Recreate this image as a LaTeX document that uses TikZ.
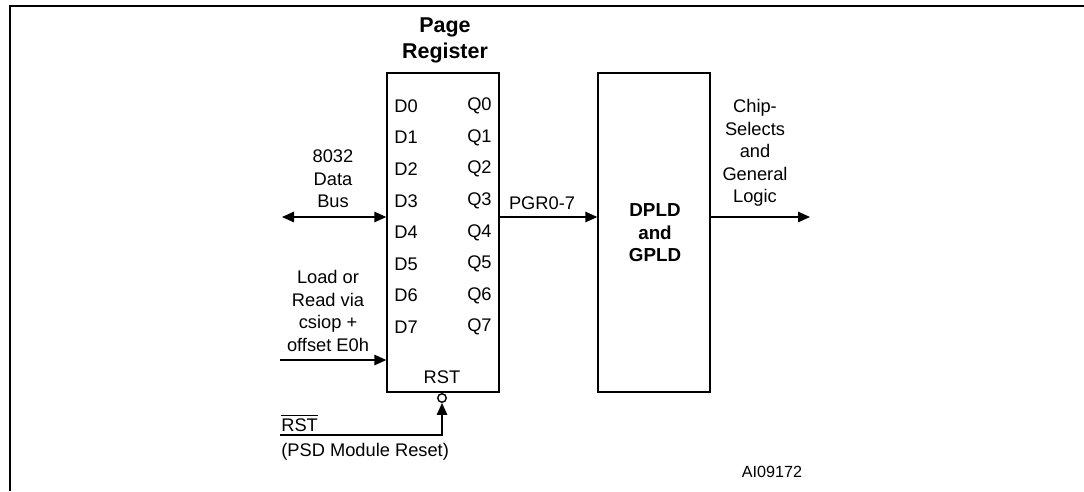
\documentclass[tikz,border=0pt]{standalone}
\usepackage{fontspec}
\setmainfont{Liberation Sans}
\usetikzlibrary{arrows.meta, positioning, calc}
\tikzset{
    % Blocks
    regbox/.style={rectangle, draw=black, line width=0.8pt, minimum width=2.24cm,
                minimum height=6.38cm, inner sep=0pt},
    blkttl/.style={font=\fontsize{12.2}{14.8}\selectfont\bfseries, align=center, inner sep=0pt},
    blklbl/.style={font=\fontsize{10.7}{12.8}\selectfont\bfseries, align=center, inner sep=0pt},
    % Pins and signals
    pinlbl/.style={font=\fontsize{10.4}{12.8}\selectfont, inner sep=0pt},
    siglbl/.style={font=\fontsize{10.4}{12.8}\selectfont, align=center, inner sep=0pt},
    invbubble/.style={circle, draw=black, line width=0.8pt, fill=white,
                minimum size=0.17cm, inner sep=0pt},
    sarrow/.style={-{Triangle[length=2.4mm, width=2.1mm]}, line width=0.8pt},
    barrow/.style={{Triangle[length=2.4mm, width=2.1mm]}-{Triangle[length=2.4mm, width=2.1mm]},
                line width=0.8pt},
    % General
    frameline/.style={line width=1.2pt},
    figref/.style={font=\fontsize{9.2}{10}\selectfont, inner sep=0pt},
}
\begin{document}
\begin{tikzpicture}[x=0.02cm, y=-0.02cm]
\useasboundingbox (0,0) rectangle (1084,491);
\draw[frameline] (10,491) -- (10,6) -- (1084,6);

\node[regbox] (reg)  at (443,232.5) {};
\node[regbox] (dpld) at (654,232.5) {};
\node[blkttl] (regttl) at (445,40) {Page\\Register};
\node[blklbl] (dpldlbl) at (655,233) {DPLD\\and\\GPLD};

\foreach \i in {0,...,7} {
    \node[pinlbl, anchor=west] (d\i) at (394,106+31.6*\i) {D\i};
    \node[pinlbl, anchor=east] (q\i) at (492,106+31.6*\i) {Q\i};
}
\node[pinlbl] (rstpin) at (442,377) {RST};
\node[invbubble] (bub) at (442,398) {};

\coordinate (busend) at (282,217);
\coordinate (ldend)  at (280,360);
\coordinate (outend) at (810,217);
\coordinate (rstend) at (280,435);

\draw[barrow] (busend) -- (reg.west |- busend);
\draw[sarrow] (ldend) -- (reg.west |- ldend);
\draw[sarrow] (reg.east |- busend) -- (dpld.west |- busend);
\draw[sarrow] (dpld.east |- outend) -- (outend);
\draw[sarrow] (rstend) -| (bub.south);

\node[siglbl] (buslbl) at (333,179) {8032\\Data\\Bus};
\node[siglbl] (ldlbl)  at (328,311) {Load or\\Read via\\csiop +\\offset E0h};
\node[siglbl] (pgrlbl) at (542,203) {PGR0-7};
\node[siglbl] (outlbl) at (755,153) {Chip-\\Selects\\and\\General\\Logic};
\node[siglbl, anchor=west] (rstlbl) at (281,423) {$\overline{\mbox{RST}}$};
\node[siglbl, anchor=west] (psdlbl) at (281,452) {(PSD Module Reset)};
\node[figref] (figid) at (772,472) {AI09172};
\end{tikzpicture}
\end{document}
